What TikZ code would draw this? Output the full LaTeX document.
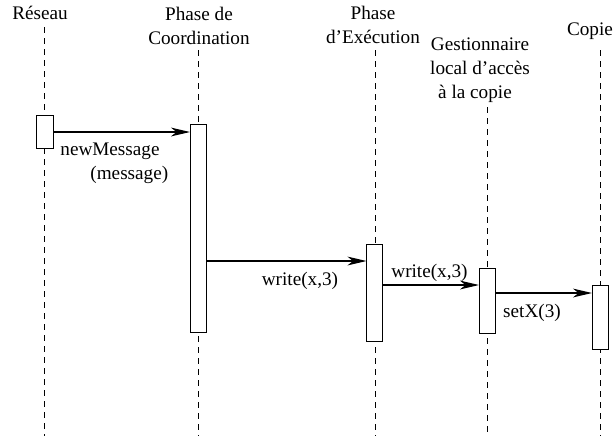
\documentclass[tikz,border=0pt]{standalone}
\usepackage{fontspec}
\setmainfont{Liberation Serif}
\usetikzlibrary{arrows.meta}
\begin{document}
\begin{tikzpicture}[x=0.5pt,y=-0.5pt,
  every node/.style={font=\fontsize{9.6}{12}\selectfont},
  hdr/.style={inner sep=0pt, align=center, anchor=base},
  lbl/.style={inner sep=0pt, anchor=base},
  act/.style={draw=black, fill=white, line width=0.5pt, rectangle, inner sep=0pt, outer sep=0pt, minimum width=8pt},
  life/.style={line width=0.5pt, dash pattern=on 3pt off 2.5pt},
  msg/.style={line width=0.6pt, -{Stealth[length=9.5pt,width=4.4pt,inset=2.8pt]}}]
\useasboundingbox (0,0) rectangle (614,436);

% headers (base = baseline of last line)
\node[hdr] (hR) at (40,19) {Réseau};
\node[hdr] (hC) at (199,44) {Phase de\\Coordination};
\node[hdr] (hE) at (373,43) {Phase\\d’Exécution};
\node[hdr] (hG) at (480,98) {Gestionnaire\\local d’accès\\à la copie\hspace*{5pt}};
\node[hdr] (hK) at (590,35) {Copie};

% lifeline ends
\coordinate (tR) at (44,27);  \coordinate (bR) at (44,436);
\coordinate (tC) at (198,50); \coordinate (bC) at (198,436);
\coordinate (tE) at (375,50); \coordinate (bE) at (375,436);
\coordinate (tG) at (487,107);\coordinate (bG) at (487,436);
\coordinate (tK) at (600,50); \coordinate (bK) at (600,436);

\draw[life] (tR) -- (bR);
\draw[life] (tC) -- (bC);
\draw[life] (tE) -- (bE);
\draw[life] (tG) -- (bG);
\draw[life] (tK) -- (bK);

% activation boxes
\node[act, minimum width=8.5pt, minimum height=16.5pt] (r1) at (44.5,131.5) {};
\node[act, minimum height=104pt] (c1) at (198,228) {};
\node[act, minimum height=48.5pt] (e1) at (374.5,292.5) {};
\node[act, minimum height=32.5pt] (g1) at (487,300.5) {};
\node[act, minimum height=32pt] (k1) at (600,317) {};

% message heights
\coordinate (m1) at (0,132);
\coordinate (m2) at (0,261);
\coordinate (m3) at (0,285);
\coordinate (m4) at (0,293);

\draw[msg] (r1.east |- m1) -- (c1.west |- m1);
\draw[msg] (c1.east |- m2) -- (e1.west |- m2);
\draw[msg] (e1.east |- m3) -- (g1.west |- m3);
\draw[msg] (g1.east |- m4) -- (k1.west |- m4);

% labels
\node[lbl, anchor=base west, align=left] (l1) at (60,179) {newMessage\\\hspace*{15pt}(message)};
\node[lbl] (l2) at (300,285) {write(x,3)};
\node[lbl] (l3) at (429.5,277) {write(x,3)};
\node[lbl] (l4) at (532,317) {setX(3)};
\end{tikzpicture}
\end{document}
